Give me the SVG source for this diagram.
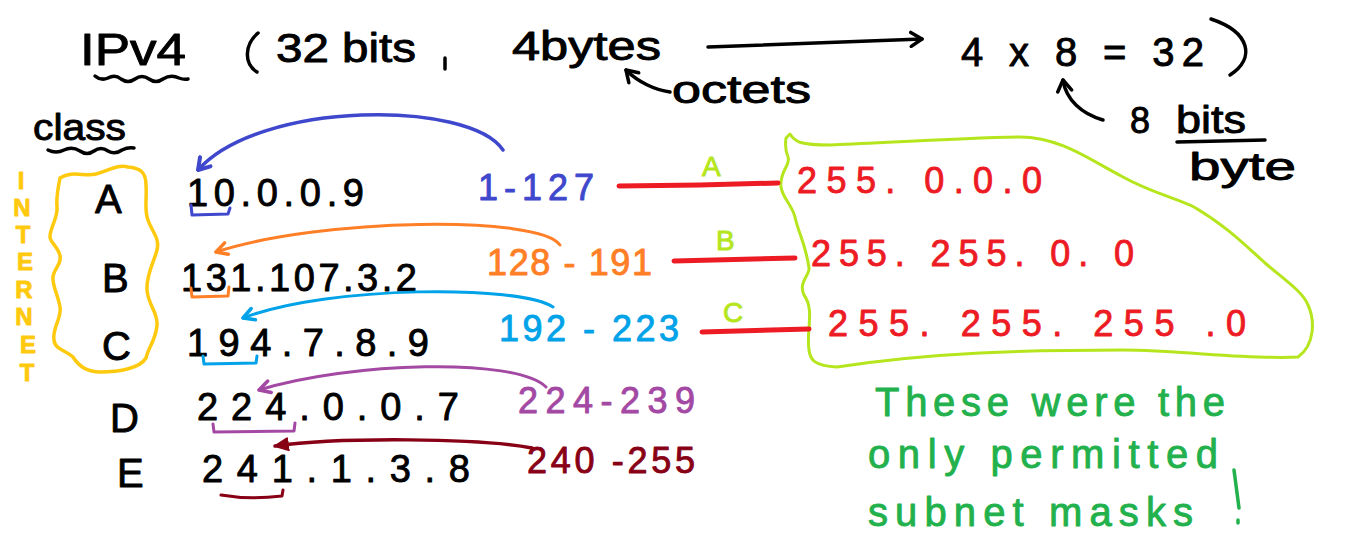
<svg xmlns="http://www.w3.org/2000/svg" width="1345" height="556" viewBox="0 0 1345 556">
<style>
text{font-family:"Liberation Sans","DejaVu Sans",sans-serif;stroke-width:0.9;stroke-linejoin:round}
.k{fill:#000;stroke:#000}
.ln{fill:none;stroke-linecap:round;stroke-linejoin:round}
.blk{stroke:#000;stroke-width:3.5}
.red{stroke:#ed1c24;stroke-width:5}
.msk{fill:#ed1c24;stroke:#ed1c24;font-size:36px}
.lime{fill:#b5e61d;stroke:#b5e61d;font-size:28px}
.note{fill:#22b14c;stroke:#22b14c;font-size:40px}
.ip{fill:#000;stroke:#000;font-size:38px}
.rg{font-size:36px}
.yl{fill:#ffc90e;stroke:#ffc90e;font-size:24px;font-weight:bold}
</style>
<defs>
<marker id="mk" viewBox="-14 -9 16 18" refX="0" refY="0" markerWidth="16" markerHeight="18" markerUnits="userSpaceOnUse" orient="auto"><path d="M-11,-7 L0,0 L-11,7" fill="none" stroke="#000" stroke-width="3.5" stroke-linecap="round" stroke-linejoin="round"/></marker>
<marker id="mb" viewBox="-14 -9 16 18" refX="0" refY="0" markerWidth="16" markerHeight="18" markerUnits="userSpaceOnUse" orient="auto"><path d="M-11,-7 L0,0 L-11,7" fill="none" stroke="#3f48cc" stroke-width="4" stroke-linecap="round" stroke-linejoin="round"/></marker>
<marker id="mo" viewBox="-14 -9 16 18" refX="0" refY="0" markerWidth="16" markerHeight="18" markerUnits="userSpaceOnUse" orient="auto"><path d="M-11,-6 L0,0 L-11,6" fill="none" stroke="#ff7f27" stroke-width="3.5" stroke-linecap="round" stroke-linejoin="round"/></marker>
<marker id="mc" viewBox="-14 -9 16 18" refX="0" refY="0" markerWidth="16" markerHeight="18" markerUnits="userSpaceOnUse" orient="auto"><path d="M-11,-6 L0,0 L-11,6" fill="none" stroke="#00a2e8" stroke-width="3.5" stroke-linecap="round" stroke-linejoin="round"/></marker>
<marker id="mp" viewBox="-14 -9 16 18" refX="0" refY="0" markerWidth="16" markerHeight="18" markerUnits="userSpaceOnUse" orient="auto"><path d="M-11,-6 L0,0 L-11,6" fill="none" stroke="#a349a4" stroke-width="3.5" stroke-linecap="round" stroke-linejoin="round"/></marker>
<marker id="mm" viewBox="-14 -9 16 18" refX="0" refY="0" markerWidth="16" markerHeight="18" markerUnits="userSpaceOnUse" orient="auto"><path d="M-13,-6 L0,0 L-13,6 Z" fill="#880015" stroke="#880015" stroke-width="2" stroke-linejoin="round"/></marker>
</defs>
<rect width="1345" height="556" fill="#fff"/>

<g id="title">
<text x="80" y="65" font-size="44" textLength="106" lengthAdjust="spacingAndGlyphs" class="k">IPv4</text>
<path class="ln blk" d="M95,76 q6,5 13,2 q7,-4 13,1 q7,5 14,0 q7,-5 14,0 q7,5 14,0 q8,-5 16,-1 q5,2 9,1"/>
<path class="ln blk" d="M258,33 C244,45 244,64 257,72"/>
<text x="276" y="62" font-size="40" textLength="140" lengthAdjust="spacingAndGlyphs" class="k">32 bits</text>
<path class="ln blk" d="M445,58 L445,69"/>
<text x="512" y="60" font-size="40" textLength="149" lengthAdjust="spacingAndGlyphs" class="k">4bytes</text>
<text x="961" y="66" font-size="40" textLength="243" lengthAdjust="spacing" class="k">4 x 8 = 32</text>
<path class="ln blk" d="M1211,19 C1250,32 1256,58 1230,75"/>
</g>

<g id="octets">
<text x="672" y="103" font-size="38" textLength="139" lengthAdjust="spacingAndGlyphs" class="k">octets</text>
</g>

<g id="bits-per-byte">
<text x="1130" y="133" font-size="36" class="k">8</text>
<text x="1176" y="133" font-size="38" textLength="70" lengthAdjust="spacingAndGlyphs" class="k">bits</text>
<path class="ln blk" d="M1177,142 L1265,140"/>
<text x="1189" y="180" font-size="38" textLength="107" lengthAdjust="spacingAndGlyphs" class="k">byte</text>
</g>

<g id="class-header">
<text x="33" y="140" font-size="36" textLength="93" lengthAdjust="spacingAndGlyphs" class="k">class</text>
<path class="ln blk" d="M48,150 q8,4 16,0 q8,-4 16,1 q7,5 14,0 q7,-5 14,0 q7,4 14,-1 q6,-3 12,-2"/>
</g>

<g id="internet">
<path class="ln" stroke="#ffc90e" stroke-width="3.5" d="M60,178 C72,170 85,177 96,174 C110,170 118,164 128,167 C140,168 146,172 146,185 C147,200 144,210 148,220 C152,232 160,238 157,250 C154,262 146,275 147,290 C148,305 158,312 157,325 C156,340 148,348 146,358 C140,368 120,372 100,372 C86,372 78,365 73,357 C66,350 55,350 54,340 C52,328 62,318 60,307 C58,295 52,285 53,277 C54,268 62,264 60,256 C58,246 49,242 50,236 C51,225 58,218 57,207 C56,197 58,188 60,178 Z"/>
<text x="21" y="189" class="yl" text-anchor="middle">I</text>
<text x="22" y="216" class="yl" text-anchor="middle">N</text>
<text x="23" y="243" class="yl" text-anchor="middle">T</text>
<text x="25" y="270" class="yl" text-anchor="middle">E</text>
<text x="24" y="298" class="yl" text-anchor="middle">R</text>
<text x="24" y="325" class="yl" text-anchor="middle">N</text>
<text x="28" y="353" class="yl" text-anchor="middle">E</text>
<text x="27" y="381" class="yl" text-anchor="middle">T</text>
</g>

<g id="class-A">
<text x="95" y="213" font-size="40" class="k">A</text>
<text x="187" y="206" textLength="177" lengthAdjust="spacing" class="ip">10.0.0.9</text>
<path class="ln" stroke="#3f48cc" stroke-width="3" d="M191,205 L192,215 L228,214 L230,208"/>
<text x="478" y="200" textLength="116" lengthAdjust="spacing" class="rg" fill="#3f48cc" stroke="#3f48cc">1-127</text>
</g>

<g id="class-B">
<text x="102" y="292" font-size="40" class="k">B</text>
<text x="181" y="291" textLength="236" lengthAdjust="spacing" class="ip">131.107.3.2</text>
<path class="ln" stroke="#ff7f27" stroke-width="3" d="M191,288 L192,297 L228,296 L229,287"/>
<text x="487" y="275" textLength="165" lengthAdjust="spacing" class="rg" fill="#ff7f27" stroke="#ff7f27">128 - 191</text>
</g>

<g id="class-C">
<text x="102" y="360" font-size="40" class="k">C</text>
<text x="187" y="356" textLength="242" lengthAdjust="spacing" class="ip">194.7.8.9</text>
<path class="ln" stroke="#00a2e8" stroke-width="3" d="M203,356 L204,364 L256,363 L257,356"/>
<text x="499" y="341" textLength="180" lengthAdjust="spacing" class="rg" fill="#00a2e8" stroke="#00a2e8">192 - 223</text>
</g>

<g id="class-D">
<text x="110" y="432" font-size="40" class="k">D</text>
<text x="197" y="420" textLength="262" lengthAdjust="spacing" class="ip">224.0.0.7</text>
<path class="ln" stroke="#a349a4" stroke-width="3" d="M213,424 L214,432 L294,431 L295,423"/>
<text x="518" y="413" textLength="177" lengthAdjust="spacing" class="rg" fill="#a349a4" stroke="#a349a4">224-239</text>
</g>

<g id="class-E">
<text x="117" y="487" font-size="40" class="k">E</text>
<text x="202" y="482" textLength="268" lengthAdjust="spacing" class="ip">241.1.3.8</text>
<path class="ln" stroke="#880015" stroke-width="3" d="M221,495 Q250,500 282,496 L283,490"/>
<text x="527" y="473" textLength="168" lengthAdjust="spacing" class="rg" fill="#880015" stroke="#880015">240 -255</text>
</g>

<g id="masks">
<path class="ln" stroke="#b5e61d" stroke-width="3" d="M786,138 L790,134 C795,142 800,145 830,145 C880,143 960,138 1020,137 C1060,137 1090,160 1123,177 C1150,192 1175,198 1194,207 C1225,225 1245,245 1265,263 C1285,280 1303,292 1308,305 C1315,320 1315,345 1298,357 C1250,360 1180,350 1123,350 C1060,350 1000,352 980,353 C920,356 870,362 837,367 C815,366 810,360 809,350 C806,330 815,310 804,295 C798,282 810,275 809,268 C806,245 798,232 795,217 C792,205 782,197 781,187 C779,172 791,165 788,157 C785,150 785,145 786,138 Z"/>
<text x="797" y="193" textLength="245" lengthAdjust="spacing" class="msk">255. 0.0.0</text>
<text x="811" y="266" textLength="323" lengthAdjust="spacing" class="msk">255. 255. 0. 0</text>
<text x="828" y="336" textLength="418" lengthAdjust="spacing" class="msk">255. 255. 255 .0</text>
</g>

<g id="note">
<text x="875" y="416" textLength="350" lengthAdjust="spacing" class="note">These were the</text>
<text x="868" y="468" textLength="350" lengthAdjust="spacing" class="note">only permitted</text>
<text x="868" y="526" textLength="325" lengthAdjust="spacing" class="note">subnet masks</text>
<path class="ln" stroke="#22b14c" stroke-width="3.5" d="M1234,470 L1239,508 M1238,520 L1238,523"/>
</g>

<g id="connectors">
<path class="ln blk" d="M708,47 L922,39" marker-end="url(#mk)"/>
<path class="ln blk" d="M670,92 C655,90 638,82 626,70" marker-end="url(#mk)"/>
<path class="ln blk" d="M1103,120 C1082,114 1066,100 1063,80" marker-end="url(#mk)"/>
<path class="ln" stroke="#3f48cc" stroke-width="3.5" d="M503,150 C470,100 260,100 198,170" marker-end="url(#mb)"/>
<path class="ln" stroke="#ff7f27" stroke-width="3" d="M560,245 C540,215 320,218 216,252" marker-end="url(#mo)"/>
<path class="ln" stroke="#00a2e8" stroke-width="3" d="M553,307 C520,285 330,285 243,318" marker-end="url(#mc)"/>
<path class="ln" stroke="#a349a4" stroke-width="3" d="M546,387 C515,357 350,362 259,390" marker-end="url(#mp)"/>
<path class="ln" stroke="#880015" stroke-width="3.5" d="M532,448 C480,438 340,437 275,446" marker-end="url(#mm)"/>
<path class="ln red" d="M619,186 L700,185 L778,183"/>
<path class="ln red" d="M674,261 L795,258"/>
<path class="ln red" d="M702,332 L809,329"/>
<text x="702" y="176" class="lime">A</text>
<text x="716" y="250" class="lime">B</text>
<text x="723" y="322" class="lime">C</text>
</g>
</svg>
